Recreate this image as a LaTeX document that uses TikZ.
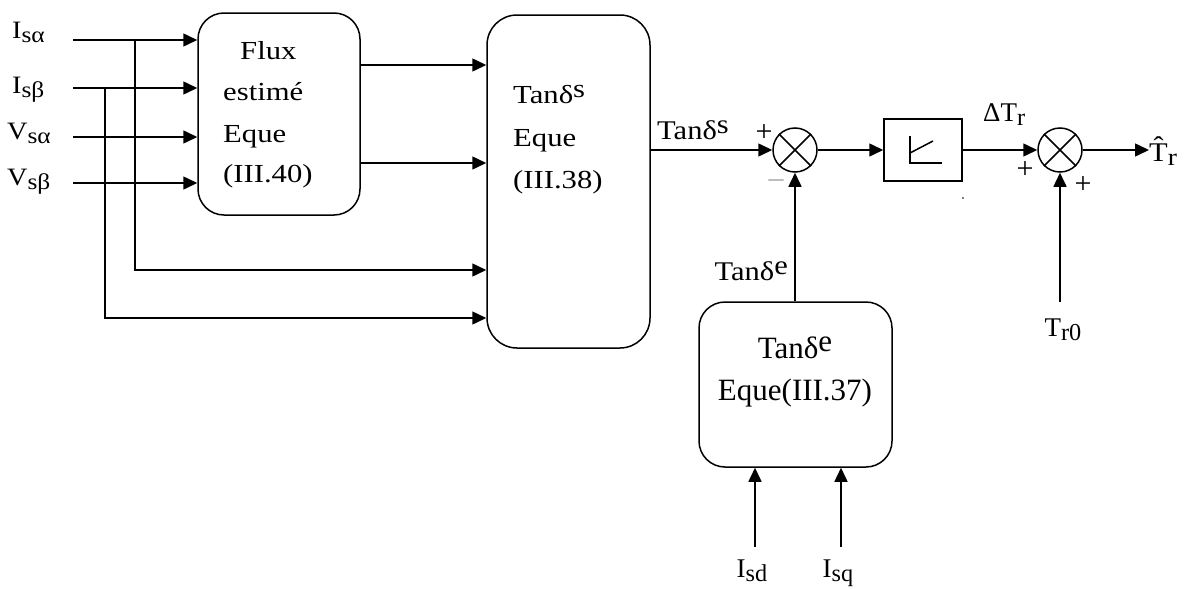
\documentclass[tikz,border=0pt]{standalone}
\usepackage{fontspec}
\usepackage{graphicx}
\setmainfont{Liberation Serif}
\newfontfamily\boxfont[FakeStretch=1.18]{Liberation Serif}
\newfontfamily\lblfont[FakeStretch=1.13]{Liberation Serif}
\usetikzlibrary{arrows.meta}
% near full-size indices, as set by the equation editor
\newcommand\lsub[1]{\raisebox{-0.17em}{\scalebox{0.9}{#1}}}
\newcommand\lsup[1]{\raisebox{0.2em}{#1}}

\begin{document}
\begin{tikzpicture}[x=1pt,y=-1pt,
  wire/.style={line width=1.5pt},
  arr/.style={wire,-{Triangle[length=14pt,width=13pt]}},
  rbox/.style={draw,line width=1.5pt,rounded corners=26pt,inner sep=0pt},
  sbox/.style={draw,line width=1.5pt,inner sep=0pt},
  sumj/.style={draw,circle,line width=1.5pt,minimum size=44pt,inner sep=0pt},
  btxt/.style={inner sep=0pt,font=\boxfont\fontsize{26}{30}\selectfont},
  ctxt/.style={inner sep=0pt,font=\fontsize{31}{36}\selectfont},
  inl/.style={inner sep=0pt,font=\lblfont\fontsize{25}{29}\selectfont},
  sigl/.style={inner sep=0pt,font=\lblfont\fontsize{27}{31}\selectfont},
  vall/.style={inner sep=0pt,font=\fontsize{27}{31}\selectfont},
  sgn/.style={inner sep=0pt,font=\fontsize{30}{34}\selectfont}]
\useasboundingbox (0,0) rectangle (1184,589);

% blocks
\node[rbox,minimum width=162pt,minimum height=202pt] (flux) at (279,114) {};
\node[rbox,minimum width=163pt,minimum height=333pt,rounded corners=30pt] (tan) at (568.5,181.5) {};
\node[rbox,minimum width=193pt,minimum height=165pt] (te) at (795.5,384.5) {};
\node[sbox,minimum width=78pt,minimum height=62pt] (integ) at (923,150) {};
\node[sumj] (s1) at (795,150) {};
\node[sumj] (s2) at (1060,150) {};
\draw[wire] (s1.north west) -- (s1.south east) (s1.north east) -- (s1.south west);
\draw[wire] (s2.north west) -- (s2.south east) (s2.north east) -- (s2.south west);

% integrator symbol
\draw[wire] ([shift={(-13,-14)}]integ.center) -- ([shift={(-13,13)}]integ.center)
  -- ([shift={(19,13)}]integ.center);
\draw[wire] ([shift={(-13,3)}]integ.center) -- ([shift={(10,-9)}]integ.center);

% block texts
\node[btxt,anchor=base west] (fl1) at (240,59) {Flux};
\node[btxt,anchor=base west] (fl2) at (223,100) {estimé};
\node[btxt,anchor=base west] (fl3) at (223,142) {Eque};
\node[btxt,anchor=base west] (fl4) at (223,182) {(III.40)};
\node[btxt,anchor=base west] (ts1) at (513,103) {Tanδ\lsup{s}};
\node[btxt,anchor=base west] (ts2) at (513,146) {Eque};
\node[btxt,anchor=base west] (ts3) at (513,188) {(III.38)};
\node[ctxt,anchor=base] (te1) at (795,358) {Tanδ\lsup{e}};
\node[ctxt,anchor=base] (te2) at (795,400) {Eque(III.37)};

% inputs
\coordinate (a1) at (73,40);
\coordinate (a2) at (73,88);
\coordinate (a3) at (73,137);
\coordinate (a4) at (73,183);
\coordinate (j1) at (135,40);
\coordinate (j2) at (105,88);
\coordinate (lv1) at (0,65);
\coordinate (lv2) at (0,163);
\coordinate (lv3) at (0,270);
\coordinate (lv4) at (0,318);
\node[inl,anchor=base west] (l1) at (12,38) {I\lsub{sα}};
\node[inl,anchor=base west] (l2) at (12,93) {I\lsub{sβ}};
\node[inl,anchor=base west] (l3) at (7,139) {V\lsub{sα}};
\node[inl,anchor=base west] (l4) at (7,185) {V\lsub{sβ}};
\draw[arr] (a1) -- (a1 -| flux.west);
\draw[arr] (a2) -- (a2 -| flux.west);
\draw[arr] (a3) -- (a3 -| flux.west);
\draw[arr] (a4) -- (a4 -| flux.west);
\draw[arr] (j1) |- (tan.west |- lv3);
\draw[arr] (j2) |- (tan.west |- lv4);
\draw[arr] (flux.east |- lv1) -- (tan.west |- lv1);
\draw[arr] (flux.east |- lv2) -- (tan.west |- lv2);

% forward path
\draw[arr] (tan.east |- s1) -- (s1);
\node[sigl,anchor=base west] (lts) at (657,139) {Tanδ\lsup{s}};
\node[sgn] (p1) at (764,133) {+};
\node[sgn,text=black!35] (m1) at (776,184) {–};
\draw[arr] (te.north -| s1) -- (s1);
\node[sigl,anchor=base east] (lte) at (788,280) {Tanδ\lsup{e}};
\draw[arr] (s1) -- (integ);
\draw[arr] (integ) -- (s2);
\node[vall,anchor=base west] (ldt) at (983,121) {ΔT\lsub{r}};
\node[sgn] (p2) at (1025,170) {+};
\node[sgn] (p3) at (1083,185) {+};
\coordinate (out) at (1149,150);
\draw[arr] (s2) -- (out);
\node[sigl,anchor=base west] (lout) at (1149,161) {\^{T}\lsub{r}};
\coordinate (t0) at (1060,302);
\draw[arr] (t0) -- (s2);
\node[vall,anchor=base] (lt0) at (1063,336) {T\lsub{r0}};
\fill (963,198) circle (0.8pt);

% inputs of the Tan delta e block
\coordinate (d1) at (755,547);
\coordinate (d2) at (841,547);
\draw[arr] (d1) -- (d1 |- te.south);
\draw[arr] (d2) -- (d2 |- te.south);
\node[vall,anchor=base] (lsd) at (752,577) {I\lsub{sd}};
\node[vall,anchor=base] (lsq) at (838,577) {I\lsub{sq}};
\end{tikzpicture}
\end{document}
